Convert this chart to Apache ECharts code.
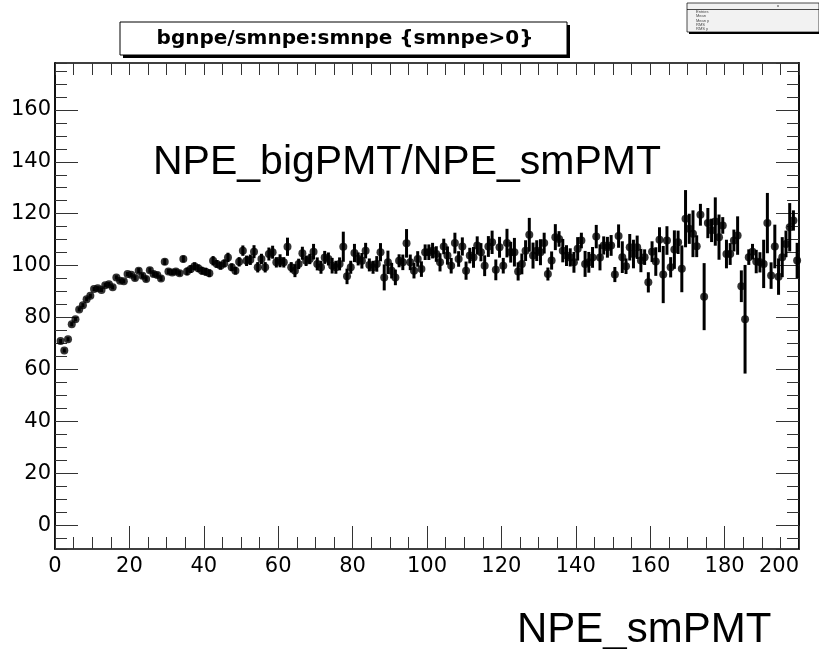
<!DOCTYPE html>
<html>
<head>
<meta charset="utf-8">
<script src="https://cdn.jsdelivr.net/npm/echarts@6/dist/echarts.min.js"></script>
<style>
  html, body { margin: 0; padding: 0; background: #fff; }
  #chart { width: 819px; height: 649px; }
</style>
</head>
<body>
<div id="chart"></div>
<script>
// smnpe bins: width 1, first bin starts at 1 (smnpe>0)
const firstBin = 1;
const binWidth = 1;

// bgnpe/smnpe profile, one value per bin (1.5 ... 199.5)
const ratio = [
  71.0, 67.4, 71.7, 77.5, 79.4, 83.2, 84.8, 87.1, 88.4, 91.0,
  91.3, 90.7, 92.5, 92.9, 91.7, 95.5, 94.2, 94.0, 96.8, 96.5,
  95.3, 98.1, 96.1, 94.9, 98.3, 96.8, 96.4, 95.1, 101.5, 97.8,
  97.4, 97.8, 97.1, 102.6, 97.8, 98.7, 99.8, 99.0, 98.1, 97.7,
  97.1, 101.9, 100.7, 100.0, 100.9, 103.2, 99.4, 98.1, 101.5, 105.8,
  101.9, 102.3, 105.4, 99.4, 102.6, 99.4, 104.5, 105.2, 101.3, 101.9,
  101.3, 107.3, 99.4, 98.1, 100.7, 104.8, 101.9, 102.6, 105.4, 100.7,
  99.4, 103.2, 102.6, 100.0, 99.4, 100.7, 107.3, 95.9, 99.4, 104.9,
  102.6, 101.9, 105.8, 100.3, 99.4, 100.7, 105.2, 95.5, 101.3, 98.1,
  95.5, 101.9, 101.3, 108.6, 101.3, 98.1, 102.6, 98.7, 105.2,
  105.2, 105.8, 104.5, 101.3, 107.4, 103.9, 100.0, 108.7, 102.6, 107.4,
  98.1, 103.9, 103.2, 107.8, 105.2, 100.0, 107.4, 109.0, 98.4, 107.1,
  100.0, 108.7, 105.2, 105.2, 97.8, 100.7, 105.8, 111.9, 103.9, 105.8,
  105.2, 108.7, 96.8, 102.0, 111.0, 110.3, 105.8, 103.9, 103.2, 101.3,
  106.5, 109.7, 100.7, 101.3, 103.2, 111.2, 103.2, 107.8, 107.1, 107.8,
  96.6, 111.4, 103.3, 99.8, 107.1, 104.5, 107.1, 102.0, 103.3, 93.6,
  105.4, 101.6, 110.0, 96.6, 109.7, 99.4, 106.2, 109.0, 98.8, 118.1,
  114.2, 112.3, 107.5, 119.6, 88.1, 116.4, 113.6, 117.0, 111.0, 115.5,
  104.5, 104.5, 109.7, 111.6, 92.1, 79.4, 103.3, 105.4, 101.6, 101.3,
  100.7, 116.4, 96.2, 107.4, 95.8, 103.3, 108.4, 114.8, 117.4, 102.0
];

// error on the mean for each bin
const ratioErr = [
  0.8, 0.8, 0.8, 0.8, 0.8, 0.8, 0.8, 0.8, 0.8, 0.8,
  0.8, 0.8, 0.8, 0.8, 0.8, 0.8, 0.8, 0.8, 0.8, 0.8,
  1.0, 1.0, 1.0, 1.0, 1.0, 1.0, 1.0, 1.0, 1.2, 1.0,
  1.0, 1.0, 1.0, 1.3, 1.5, 1.5, 1.5, 1.5, 1.5, 1.5,
  1.5, 1.8, 1.5, 1.5, 1.5, 1.8, 1.5, 1.5, 1.8, 2.0,
  2.0, 2.0, 2.5, 2.0, 2.0, 2.0, 2.5, 2.5, 2.0, 2.5,
  2.0, 3.5, 2.0, 2.5, 2.0, 2.5, 2.0, 2.0, 3.0, 2.5,
  2.5, 2.5, 2.5, 3.0, 2.5, 2.5, 5.8, 3.0, 2.5, 3.5,
  2.5, 3.0, 3.0, 2.5, 2.5, 3.0, 3.5, 5.0, 4.5, 3.0,
  3.0, 2.5, 3.0, 5.5, 3.0, 3.0, 3.0, 3.0, 3.0,
  3.0, 3.0, 3.0, 3.5, 3.0, 3.5, 3.0, 4.0, 3.0, 3.5,
  3.5, 3.0, 4.0, 3.5, 3.5, 4.0, 4.0, 4.5, 4.0, 4.0,
  3.0, 5.5, 4.0, 5.5, 3.5, 4.0, 4.0, 6.5, 5.0, 4.0,
  5.0, 4.0, 2.5, 3.5, 5.0, 3.0, 4.5, 4.0, 3.5, 4.0,
  4.5, 3.0, 5.0, 4.0, 4.0, 4.5, 5.0, 3.5, 4.0, 4.0,
  2.9, 4.5, 6.1, 3.0, 5.1, 5.5, 4.5, 4.5, 3.0, 3.9,
  4.0, 5.5, 4.8, 11.0, 5.5, 3.9, 7.4, 4.5, 9.0, 11.0,
  5.8, 9.0, 4.2, 4.2, 12.9, 5.8, 4.5, 9.3, 8.7, 3.2,
  5.5, 4.2, 4.2, 7.4, 6.1, 20.9, 3.0, 3.0, 4.5, 3.9,
  9.3, 11.6, 5.1, 8.4, 7.0, 7.7, 5.1, 9.3, 3.9, 6.8
];

const xRange = [0, 200];
const yRange = [-9, 178];
const statLabels = ['Entries', 'Mean', 'Mean y', 'RMS', 'RMS y'];

const points = ratio.map((v, i) => [firstBin + (i + 0.5) * binWidth, v, ratioErr[i]]);

const chart = echarts.init(document.getElementById('chart'));

const tickColor = '#333';
const labelFont = 'DejaVu Sans, sans-serif';

function xAx(pos, labels) {
  return {
    type: 'value', position: pos, min: xRange[0], max: xRange[1], interval: 20,
    axisLine: { show: true, onZero: false, lineStyle: { color: '#000', width: 1.5 } },
    axisTick: { show: true, inside: true, length: pos === 'bottom' ? 23 : 12, lineStyle: { color: tickColor, width: 1 } },
    minorTick: { show: true, splitNumber: 4, length: 12, lineStyle: { color: tickColor, width: 1 } },
    axisLabel: { show: labels, fontFamily: labelFont, fontSize: 21, color: '#000', margin: 7, alignMaxLabel: 'right' },
    splitLine: { show: false }
  };
}

function yAx(pos, step, len, labels) {
  return {
    type: 'value', position: pos, min: yRange[0], max: yRange[1],
    minInterval: step, maxInterval: step, splitNumber: Math.round((yRange[1] - yRange[0]) / step),
    axisLine: { show: true, onZero: false, lineStyle: { color: '#000', width: 1.5 } },
    axisTick: { show: true, inside: true, length: len, lineStyle: { color: tickColor, width: 1 } },
    axisLabel: { show: labels, showMinLabel: false, showMaxLabel: false, fontFamily: labelFont, fontSize: 21, color: '#000', margin: 4 },
    splitLine: { show: false }
  };
}

chart.setOption({
  backgroundColor: '#fff',
  animation: false,
  grid: { left: 55, right: 20, top: 63, bottom: 100, containLabel: false, outerBoundsMode: 'none' },
  xAxis: [xAx('bottom', true), xAx('top', false)],
  yAxis: [
    yAx('left', 20, 23, true),
    yAx('left', 5, 12, false),
    yAx('right', 20, 23, false),
    yAx('right', 5, 12, false)
  ],
  series: [
    {
      type: 'custom',
      xAxisIndex: 0, yAxisIndex: 0,
      data: points,
      encode: { x: 0, y: 1 },
      renderItem: (params, api) => {
        const x = api.value(0), y = api.value(1), e = api.value(2);
        const p1 = api.coord([x, y - e]);
        const p2 = api.coord([x, y + e]);
        return {
          type: 'line',
          shape: { x1: p1[0], y1: p1[1], x2: p2[0], y2: p2[1] },
          style: { stroke: '#000', lineWidth: 3 }
        };
      }
    },
    {
      type: 'scatter',
      xAxisIndex: 0, yAxisIndex: 0,
      data: points,
      symbol: 'circle',
      symbolSize: 8,
      itemStyle: { color: '#000' }
    }
  ],
  graphic: [
    // title box with shadow
    { type: 'rect', shape: { x: 123, y: 25, width: 447, height: 33 }, style: { fill: '#000' } },
    { type: 'rect', shape: { x: 120, y: 22, width: 447, height: 33 }, style: { fill: '#fff', stroke: '#000', lineWidth: 1 } },
    { type: 'text', x: 345, y: 39, style: { text: 'bgnpe/smnpe:smnpe {smnpe>0}', font: 'bold 20px DejaVu Sans, sans-serif', fill: '#000', align: 'center', verticalAlign: 'middle' } },
    // tiny stats box
    { type: 'rect', shape: { x: 689, y: 5, width: 130, height: 29 }, style: { fill: '#000' } },
    { type: 'rect', shape: { x: 687, y: 3, width: 132, height: 29 }, style: { fill: '#f2f2f2', stroke: '#000', lineWidth: 0.7 } },
    { type: 'line', shape: { x1: 687, y1: 9.5, x2: 819, y2: 9.5 }, style: { stroke: '#000', lineWidth: 0.7 } },
    { type: 'text', x: 778, y: 6, style: { text: 'x', font: '4px Liberation Sans', fill: '#000', align: 'center', verticalAlign: 'middle' } },
    ...statLabels.map((s, i) => ({
      type: 'text', x: 696, y: 12 + i * 4.2,
      style: { text: s, font: '4px Liberation Sans', fill: '#444', verticalAlign: 'middle' }
    })),
    // annotations
    { type: 'text', x: 153, y: 163, style: { text: 'NPE_bigPMT/NPE_smPMT', font: '41px Liberation Sans, Arial, sans-serif', fill: '#000', verticalAlign: 'middle' } },
    { type: 'text', x: 517, y: 630, style: { text: 'NPE_smPMT', font: '42px Liberation Sans, Arial, sans-serif', fill: '#000', verticalAlign: 'middle' } }
  ]
});
</script>
</body>
</html>
